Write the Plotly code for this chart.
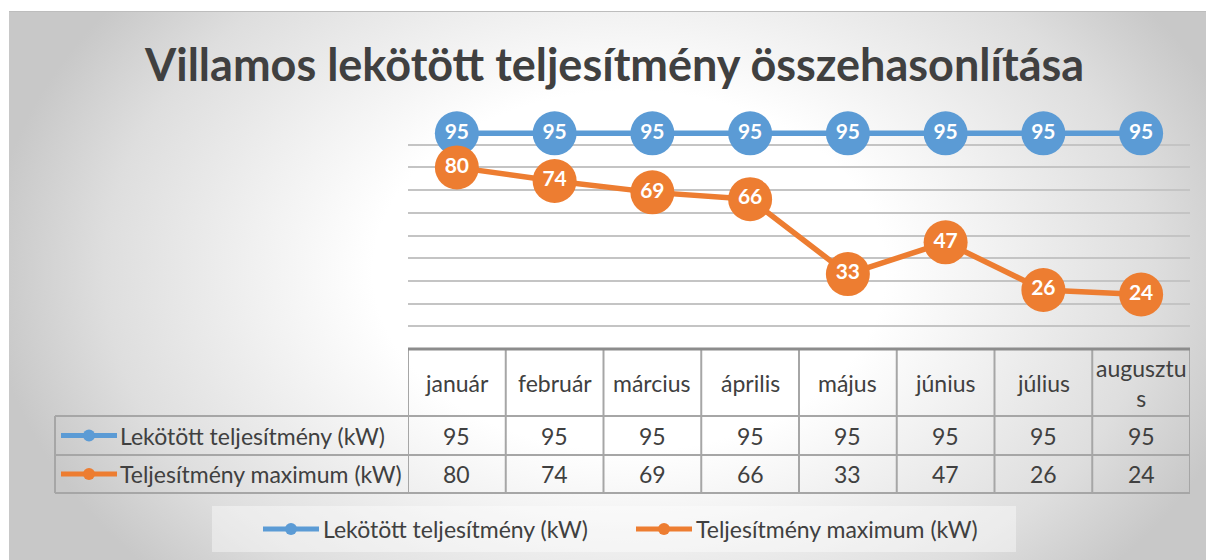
import base64
import plotly.graph_objects as go

# ---------------- data ----------------
months = ["január", "február", "március", "április", "május", "június", "július", "augusztus"]
series_names = ["Lekötött teljesítmény (kW)", "Teljesítmény maximum (kW)"]
lekotott = [95, 95, 95, 95, 95, 95, 95, 95]
maximum = [80, 74, 69, 66, 33, 47, 26, 24]
title_text = "Villamos lekötött teljesítmény összehasonlítása"

# ---------------- style ----------------
W, H = 1206, 560
BLUE = "#5B9BD5"
ORANGE = "#ED7D31"
TXT = "#404040"
GRID = "#c4c4c4"
BORDER = "#a6a6a6"
FONT = "Lato"


def px(x):
    return x / W


def py(y):
    return 1 - y / H


# plot area in pixels
PL, PR, PT, PB = 408, 1190, 122, 349
# table rows (pixels)
T_HEAD_BOTTOM, T_ROW1_BOTTOM, T_ROW2_BOTTOM = 416, 455, 493
TABLE_LEFT = 55

# background gradient (radial, Excel-like)
BW, BH = W - 9, H - 11
svg = f"""<svg xmlns='http://www.w3.org/2000/svg' width='{BW}' height='{BH}' viewBox='0 0 {BW} {BH}' preserveAspectRatio='none'>
<defs><radialGradient id='g' gradientUnits='userSpaceOnUse' cx='0' cy='0' r='1'
 gradientTransform='translate(620,260) scale(640,450)'>
<stop offset='0' stop-color='#ffffff'/>
<stop offset='0.4' stop-color='#ffffff'/>
<stop offset='0.58' stop-color='#f1f1f1'/>
<stop offset='0.82' stop-color='#dedede'/>
<stop offset='1' stop-color='#c8c8c8'/>
</radialGradient></defs>
<rect width='{BW}' height='{BH}' fill='url(#g)'/>
<line x1='0' y1='0.5' x2='{BW}' y2='0.5' stroke='#bdbdbd' stroke-width='1'/>
</svg>"""
svg_uri = "data:image/svg+xml;base64," + base64.b64encode(svg.encode("utf-8")).decode("ascii")

x_idx = list(range(len(months)))
colors = [BLUE, ORANGE]

fig = go.Figure()
for name, vals, col in zip(series_names, [lekotott, maximum], colors):
    fig.add_trace(go.Scatter(
        x=x_idx, y=vals, name=name,
        mode="lines+markers+text",
        line=dict(color=col, width=5.5),
        marker=dict(color=col, size=44, line=dict(width=0)),
        text=[str(v) for v in vals],
        textposition="middle center",
        textfont=dict(color="white", size=21, family=FONT, weight="bold"),
        cliponaxis=False,
        showlegend=False,
        hoverinfo="skip",
    ))

shapes = []
annotations = []

# table vertical lines (category boundaries via x axis)
for i in range(len(months) + 1):
    shapes.append(dict(type="line", xref="x", yref="paper",
                       x0=i - 0.5, x1=i - 0.5, y0=py(PB), y1=py(T_ROW2_BOTTOM),
                       line=dict(color=BORDER, width=2)))
# left label cell vertical line
shapes.append(dict(type="line", xref="paper", yref="paper",
                   x0=px(TABLE_LEFT), x1=px(TABLE_LEFT), y0=py(T_HEAD_BOTTOM), y1=py(T_ROW2_BOTTOM),
                   line=dict(color=BORDER, width=2)))
# horizontal table lines
for yy in [T_HEAD_BOTTOM, T_ROW1_BOTTOM, T_ROW2_BOTTOM]:
    shapes.append(dict(type="line", xref="paper", yref="paper",
                       x0=px(TABLE_LEFT), x1=px(PR), y0=py(yy), y1=py(yy),
                       line=dict(color=BORDER, width=2)))
# top (axis) line
shapes.append(dict(type="line", xref="paper", yref="paper",
                   x0=px(PL), x1=px(PR), y0=py(PB), y1=py(PB),
                   line=dict(color="#8c8c8c", width=3)))

# legend box
shapes.append(dict(type="rect", xref="paper", yref="paper",
                   x0=px(212), x1=px(1016), y0=py(506), y1=py(552),
                   fillcolor="rgba(255,255,255,0.4)", line=dict(width=0), layer="below"))


def legend_key(x_left, yc, col):
    shapes.append(dict(type="line", xref="paper", yref="paper",
                       x0=px(x_left), x1=px(x_left + 56), y0=py(yc), y1=py(yc),
                       line=dict(color=col, width=5)))
    shapes.append(dict(type="circle", xref="paper", yref="paper",
                       x0=px(x_left + 22), x1=px(x_left + 34), y0=py(yc + 6), y1=py(yc - 6),
                       fillcolor=col, line=dict(width=0)))


# table header texts
for i, m in enumerate(months):
    lab = m if len(m) <= 8 else m[:8] + "<br>" + m[8:]
    annotations.append(dict(x=i, y=py((PB + T_HEAD_BOTTOM) / 2), xref="x", yref="paper",
                            xanchor="center", yanchor="middle",
                            text=lab, showarrow=False,
                            font=dict(family=FONT, size=23, color=TXT)))
# table value rows
row_centers = [(T_HEAD_BOTTOM + T_ROW1_BOTTOM) / 2, (T_ROW1_BOTTOM + T_ROW2_BOTTOM) / 2]
for vals, yc in zip([lekotott, maximum], row_centers):
    for i, v in enumerate(vals):
        annotations.append(dict(x=i, y=py(yc), xref="x", yref="paper",
                                xanchor="center", yanchor="middle",
                                text=str(v), showarrow=False,
                                font=dict(family=FONT, size=23, color=TXT)))
# row labels with legend keys
for name, col, yc in zip(series_names, colors, row_centers):
    legend_key(61, yc, col)
    annotations.append(dict(x=px(118), y=py(yc), xref="paper", yref="paper",
                            xanchor="left", yanchor="middle", text=name, showarrow=False,
                            font=dict(family=FONT, size=23, color=TXT)))

# bottom legend
LEG_Y = 529
for name, col, xl in zip(series_names, colors, [263, 636]):
    legend_key(xl, LEG_Y, col)
    annotations.append(dict(x=px(xl + 58), y=py(LEG_Y), xref="paper", yref="paper",
                            xanchor="left", yanchor="middle", text=name, showarrow=False,
                            font=dict(family=FONT, size=23, color=TXT)))

# title
annotations.append(dict(x=px(614), y=py(64), xref="paper", yref="paper",
                        xanchor="center", yanchor="middle",
                        text=f"<b>{title_text}</b>", showarrow=False,
                        font=dict(family=FONT, size=45, color=TXT)))

fig.update_layout(
    width=W, height=H,
    margin=dict(l=0, r=0, t=0, b=0),
    paper_bgcolor="white",
    plot_bgcolor="rgba(0,0,0,0)",
    images=[dict(source=svg_uri, xref="paper", yref="paper",
                 x=px(9), y=py(11), sizex=BW / W, sizey=BH / H,
                 xanchor="left", yanchor="top", sizing="stretch", layer="below")],
    xaxis=dict(domain=[px(PL), px(PR)], range=[-0.5, len(months) - 0.5],
               showticklabels=False, showgrid=False, zeroline=False, showline=False, ticks=""),
    yaxis=dict(domain=[py(PB), py(PT)], range=[0, 100], dtick=10,
               showticklabels=False, showgrid=True, gridcolor=GRID, gridwidth=1.5,
               zeroline=False, showline=False, ticks=""),
    showlegend=False,
    hovermode=False,
    shapes=shapes,
    annotations=annotations,
)

fig.write_html("out.html",
               config={"displayModeBar": False},
               post_script="document.body.style.margin='0';document.body.style.overflow='hidden';")
